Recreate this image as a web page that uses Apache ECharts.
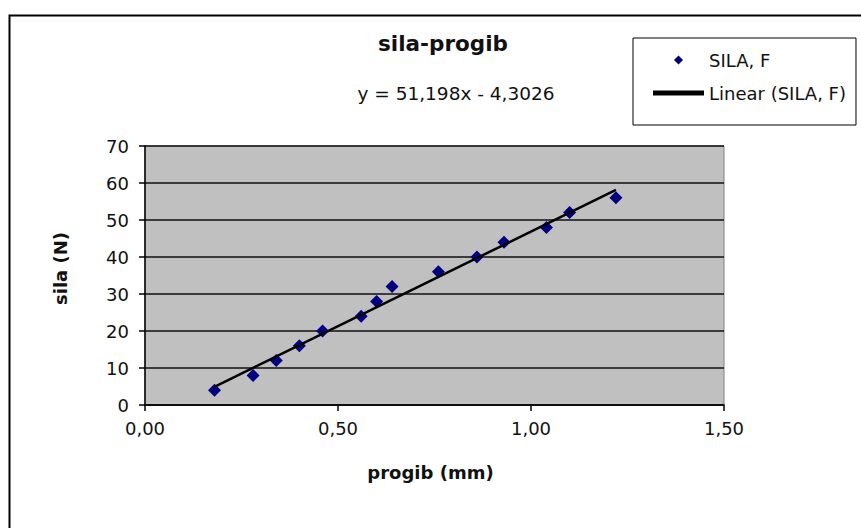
<!DOCTYPE html>
<html>
<head>
<meta charset="utf-8">
<script src="https://cdn.jsdelivr.net/npm/echarts@6/dist/echarts.min.js"></script>
<style>
html,body{margin:0;padding:0;background:#fff;}
#c{width:861px;height:528px;}
</style>
</head>
<body>
<div id="c"></div>
<script>
// Data
const progib = [0.18, 0.28, 0.34, 0.40, 0.46, 0.56, 0.60, 0.64, 0.76, 0.86, 0.93, 1.04, 1.10, 1.22];
const sila   = [4, 8, 12, 16, 20, 24, 28, 32, 36, 40, 44, 48, 52, 56];
const trendSlope = 51.198;
const trendIntercept = -4.3026;
const xTicks = [0, 0.5, 1.0, 1.5];
const yTicks = [0, 10, 20, 30, 40, 50, 60, 70];
const titleText = 'sila-progib';
const equationText = 'y = 51,198x - 4,3026';
const seriesName = 'SILA, F';
const trendName = 'Linear (SILA, F)';
const xName = 'progib (mm)';
const yName = 'sila (N)';

const points = progib.map((x, i) => [x, sila[i]]);
const xMin = Math.min(...progib), xMax = Math.max(...progib);
const trend = [[xMin, trendSlope * xMin + trendIntercept], [xMax, trendSlope * xMax + trendIntercept]];

const FONT = 'DejaVu Sans';
const chart = echarts.init(document.getElementById('c'), null, {renderer: 'svg'});
chart.setOption({
  animation: false,
  backgroundColor: '#ffffff',
  textStyle: {fontFamily: FONT},
  graphic: [
    {type: 'rect', left: 7, top: 13, shape: {width: 900, height: 560}, style: {fill: 'none', stroke: '#000', lineWidth: 2}, silent: true, z: -10},
    {type: 'text', x: 443, y: 43, style: {text: titleText, font: 'bold 21.5px "DejaVu Sans"', fill: '#111', textAlign: 'center', textVerticalAlign: 'middle'}},
    {type: 'text', x: 456, y: 93, style: {text: equationText, font: '18.5px "DejaVu Sans"', fill: '#111', textAlign: 'center', textVerticalAlign: 'middle'}}
  ],
  legend: {
    left: 633, top: 38,
    orient: 'vertical',
    padding: [13, 10, 23, 20],
    itemGap: 15,
    itemWidth: 51, itemHeight: 9,
    symbolKeepAspect: true,
    borderColor: '#000', borderWidth: 1,
    backgroundColor: '#fff',
    textStyle: {fontFamily: FONT, fontSize: 18, color: '#111'},
    data: [
      {name: seriesName, icon: 'path://M0,-1L1,0L0,1L-1,0Z'},
      {name: trendName, icon: 'path://M0,0L10,0L10,1L0,1Z'}
    ]
  },
  grid: {
    left: 145, top: 146, right: 137, bottom: 123,
    show: true, backgroundColor: '#c0c0c0', borderColor: '#808080', borderWidth: 1
  },
  xAxis: {
    type: 'value', min: xTicks[0], max: xTicks[xTicks.length - 1], interval: 0.5,
    name: xName, nameLocation: 'middle', nameGap: 58,
    nameTextStyle: {fontFamily: FONT, fontSize: 18, fontWeight: 'bold', color: '#111', padding: [0, 8, 0, 0]},
    axisLine: {show: true, lineStyle: {color: '#000', width: 1.5}},
    axisTick: {show: true, length: 6, lineStyle: {color: '#000', width: 1.5}},
    axisLabel: {fontFamily: FONT, fontSize: 18, color: '#111', margin: 14,
      formatter: v => v.toFixed(2).replace('.', ',')},
    splitLine: {show: false}
  },
  yAxis: {
    type: 'value', min: yTicks[0], max: yTicks[yTicks.length - 1], interval: 10,
    name: yName, nameLocation: 'middle', nameGap: 76, nameRotate: 90,
    nameTextStyle: {fontFamily: FONT, fontSize: 18, fontWeight: 'bold', color: '#111', padding: [0, 0, 0, 14]},
    axisLine: {show: true, lineStyle: {color: '#000', width: 1.5}},
    axisTick: {show: true, length: 6, lineStyle: {color: '#000', width: 1.5}},
    axisLabel: {fontFamily: FONT, fontSize: 18, color: '#111', margin: 16},
    splitLine: {show: true, lineStyle: {color: '#111', width: 1.5}}
  },
  series: [
    {
      name: seriesName, type: 'scatter', data: points,
      symbol: 'diamond', symbolSize: 13,
      itemStyle: {color: '#000080', opacity: 1}, z: 3
    },
    {
      name: trendName, type: 'line', data: trend,
      showSymbol: false, symbol: 'none',
      lineStyle: {color: '#000', width: 2.5},
      itemStyle: {color: '#000'}, z: 4
    }
  ]
});
</script>
</body>
</html>
